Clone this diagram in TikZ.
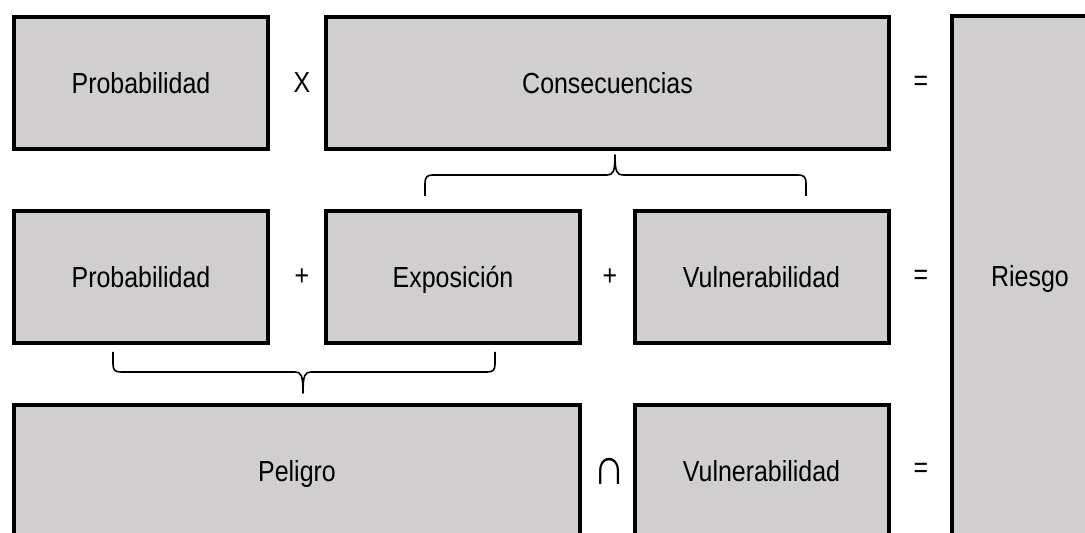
\documentclass[tikz,border=0pt]{standalone}
\usepackage{fontspec}
\setmainfont{Liberation Sans}[FakeStretch=0.86]
\usepackage{tikz}
\usetikzlibrary{positioning}
\definecolor{boxgray}{RGB}{208,206,207}

\begin{document}
\begin{tikzpicture}[%
    x=0.5pt,
    y=-0.5pt,
    factor/.style={%
      rectangle,
      draw,
      fill=boxgray,
      line width=2pt,
      minimum width=127pt,
      minimum height=66pt,
      inner sep=0pt,
      text height=10.4pt,
      text depth=0pt,
      font=\fontsize{14.5pt}{17pt}\selectfont
    },
    op/.style={%
      inner sep=0pt,
      font=\fontsize{14.5pt}{17pt}\selectfont
    },
    bracket/.style={%
      line width=0.8pt,
      line join=round
    }
  ]
  \useasboundingbox (0,0) rectangle (1085,533);
  \clip (0,0) rectangle (1085,533);
  % Nodes: 
    \node[factor] (P1) at (141,83)                          {Probabilidad};
    \node[op]     (x)  at (302,83)                          {X};
    \node[factor, minimum width=281.5pt] (C) at (607.5,83)  {Consecuencias};
    \node[op]     (eq1) at (921,83)                         {=};
    \node[factor, minimum width=78pt, minimum height=260pt] (R) at (1030,276) {Riesgo};

    \node[factor] (P2) at (141,277)                         {Probabilidad};
    \node[op]     (plus1) at (302,277)                      {+};
    \node[factor] (E) at (453,277)                          {Exposición};
    \node[op]     (plus2) at (610,277)                      {+};
    \node[factor] (V1) at (761.5,277)                       {Vulnerabilidad};
    \node[op]     (eq2) at (921,277)                        {=};

    \node[factor, minimum width=283pt] (Pel) at (297,471)   {Peligro};
    \node[op, font=\fontsize{26pt}{28pt}\selectfont] (cap) at (610,471) {∩};
    \node[factor] (V2) at (761.5,471)                       {Vulnerabilidad};
    \node[op]     (eq3) at (921,470)                        {=};
  % Paths: 
    \draw[bracket] (425,196) -- (425,184) .. controls (425,177) and (427,175) .. (433,175)
          -- (607,175) .. controls (613,175) and (615,172) .. (615,155)
          .. controls (615,172) and (617,175) .. (623,175)
          -- (798,175) .. controls (804,175) and (806,177) .. (806,184) -- (806,196);
    \draw[bracket] (113,352) -- (113,364) .. controls (113,370) and (115,372) .. (121,372)
          -- (295,372) .. controls (301,372) and (303,375) .. (303,393)
          .. controls (303,375) and (305,372) .. (311,372)
          -- (487,372) .. controls (493,372) and (495,370) .. (495,364) -- (495,352);
\end{tikzpicture}
\end{document}
